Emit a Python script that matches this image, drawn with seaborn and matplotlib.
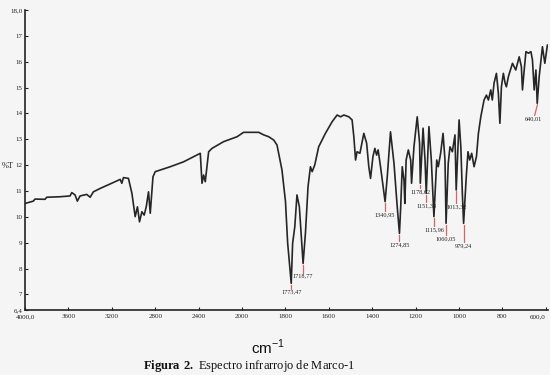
import numpy as np
import matplotlib
matplotlib.use("Agg")
import matplotlib.pyplot as plt
import seaborn as sns

# IR spectrum (wavenumber in cm-1, %T)
wavenumber = [4000, 3924, 3908, 3816, 3800, 3677, 3585, 3569, 3539, 3518, 3493, 3431,
              3400, 3370, 3308, 3123, 3108, 3093, 3047, 3015, 2985, 2964, 2945, 2923,
              2902, 2883, 2862, 2846, 2821, 2800, 2662, 2539, 2385, 2369, 2354, 2339,
              2308, 2277, 2170, 2046,
              1993, 1923, 1900, 1877, 1854, 1839, 1816, 1800, 1790, 1773.47, 1767, 1757,
              1747, 1736, 1718.77, 1708, 1696, 1685, 1677, 1665, 1647, 1616, 1585, 1562,
              1546, 1531, 1508, 1493, 1485, 1477, 1470, 1457, 1439, 1426, 1416, 1408,
              1397, 1388, 1380, 1373, 1362, 1340.95, 1331, 1316, 1300, 1285, 1274.85,
              1269, 1262, 1254, 1250, 1244, 1234, 1223, 1219, 1208, 1193, 1182,
              1178.62, 1166, 1157, 1151.33, 1139, 1128, 1115.96, 1103, 1096, 1085,
              1074, 1065, 1060.05, 1050, 1042, 1031, 1019, 1016, 1013.32, 1000, 992,
              985, 979.24, 967, 959, 951, 942, 931, 920, 911, 900, 885, 874, 865, 854,
              847, 839, 828, 819, 812, 805, 796, 788, 782, 773, 754, 739, 723, 713,
              708, 700, 692, 680, 669, 662, 654, 646, 640.01, 631, 616, 605, 593]
transmittance = [10.52, 10.61, 10.69, 10.68, 10.76, 10.78, 10.81, 10.94, 10.85, 10.61,
                 10.81, 10.87, 10.76, 10.97, 11.10, 11.45, 11.30, 11.52, 11.49, 10.91,
                 10.01, 10.39, 9.81, 10.20, 10.07, 10.39, 10.97, 10.14, 11.55, 11.75,
                 11.94, 12.13, 12.46, 11.30, 11.62, 11.36, 12.52, 12.65, 12.91, 13.10,
                 13.27, 13.27, 13.17, 13.10, 12.97, 12.78, 11.81, 10.60, 9.00, 7.43,
                 8.98, 9.62, 10.85, 10.39, 8.20, 9.37, 11.17, 11.94, 11.75, 12.01,
                 12.71, 13.23, 13.68, 13.94, 13.87, 13.94, 13.87, 13.75, 13.10, 12.20,
                 12.52, 12.46, 13.23, 12.85, 11.94, 11.49, 12.33, 12.65, 12.39, 12.59,
                 11.94, 10.59, 11.55, 13.29, 12.07, 10.39, 9.36,
                 10.39, 11.94, 11.43, 10.52, 12.20, 12.59, 12.20, 11.30, 12.71, 13.87,
                 12.85, 11.30, 13.43, 12.20, 10.91, 13.49, 12.20, 10.01, 12.20, 11.94,
                 12.46, 13.23, 12.20, 9.75, 12.07, 12.71, 12.52, 13.17, 12.07, 11.04,
                 13.75, 12.71, 10.91, 9.75, 11.55, 12.52, 12.20, 12.46, 11.94, 12.33,
                 13.23, 13.87, 14.52, 14.71, 14.52, 14.91, 14.52, 15.17, 15.55, 14.78,
                 13.62, 15.03, 15.55, 15.17, 15.03, 15.42, 15.94, 15.68, 16.19, 15.81,
                 14.91, 15.68, 16.39, 16.33, 16.39, 16.07, 14.91, 15.68, 14.39, 15.42,
                 16.58, 15.94, 16.65]

# labelled bands
peak_wn = [1773.47, 1718.77, 1340.95, 1274.85, 1178.62, 1151.33, 1115.96,
           1060.05, 1013.32, 979.24, 640.01]
peak_t = [7.43, 8.20, 10.59, 9.36, 11.30, 10.91, 10.01, 9.75, 11.04, 9.75, 14.39]
peak_text = ["1773,47", "1718,77", "1340,95", "1274,85", "1178,62", "1151,33",
             "1115,96", "1060,05", "1013,32", "979,24", "640,01"]

xticks = [4000, 3600, 3200, 2800, 2400, 2000, 1800, 1600, 1400, 1200, 1000, 800, 600]
xtick_labels = ["4000,0", "3600", "3200", "2800", "2400", "2000", "1800", "1600",
                "1400", "1200", "1000", "800", "600,0"]
yticks = [6.4, 7, 8, 9, 10, 11, 12, 13, 14, 15, 16, 17, 18]
ytick_labels = ["6,4", "7", "8", "9", "10", "11", "12", "13", "14", "15", "16", "17", "18,0"]

# layout only: how far the red marker drops below each band
drops = [0.2, 0.35, 0.35, 0.3, 0.18, 0.35, 0.37, 0.45, 0.5, 0.72, 0.47]

sns.set_theme(style="ticks")
bg = "#f5f5f5"
plt.rcParams["font.family"] = ["Liberation Serif", "DejaVu Serif"]
plt.rcParams["mathtext.fontset"] = "custom"
plt.rcParams["mathtext.rm"] = "Liberation Serif"
plt.rcParams["mathtext.bf"] = "Liberation Serif:bold"


# wavenumber axis changes scale at 2000 cm-1
def fwd(x):
    x = np.asarray(x, dtype=float)
    return np.where(x <= 2000, (x - 600) / 200.0, 7 + (x - 2000) / 400.0)


def inv(u):
    u = np.asarray(u, dtype=float)
    return np.where(u <= 7, 600 + 200.0 * u, 2000 + 400.0 * (u - 7))


fig = plt.figure(figsize=(5.5, 3.75), dpi=100, facecolor=bg)
ax = fig.add_axes([0.0455, 0.1733, 0.951, 0.8])
ax.set_facecolor(bg)

sns.lineplot(x=wavenumber, y=transmittance, sort=False, estimator=None,
             color="#262626", lw=1.2, ax=ax)

ax.set_xscale("function", functions=(fwd, inv))
ax.set_xlim(4000, 590)
ax.set_ylim(6.4, 18.0)
ax.set_xticks(xticks)
ax.set_xticklabels(xtick_labels)
ax.set_yticks(yticks)
ax.set_yticklabels(ytick_labels)
ax.minorticks_off()
ax.tick_params(axis="both", direction="in", length=2, width=0.8,
               labelsize=5, pad=2, colors="#222222")
ax.tick_params(axis="x", pad=3)
# keep the end labels inside the figure like the original
xl = ax.get_xticklabels()
xl[-1].set_horizontalalignment("right")
xl[-1].set_x(0)

for s in ["top", "right"]:
    ax.spines[s].set_visible(False)
for s in ["left", "bottom"]:
    ax.spines[s].set_color("#222222")
    ax.spines[s].set_linewidth(1.2)

# band markers
for wn, t, lab, d in zip(peak_wn, peak_t, peak_text, drops):
    if wn < 700:
        ax.plot([wn - 1, wn + 12], [t - 0.05, t - d], color="#e06060", lw=0.9)
        ax.text(wn + 20, t - d - 0.05, lab, fontsize=4.5, ha="center", va="top",
                color="#222222")
    else:
        ax.plot([wn, wn], [t - 0.05, t - d], color="#e06060", lw=0.9)
        ax.text(wn, t - d - 0.05, lab, fontsize=4.5, ha="center", va="top",
                color="#222222")

fig.text(2 / 550, 1 - 166 / 375, "%T", fontsize=6, ha="left", va="center",
         color="#222222")
fig.text(268 / 550, 1 - 347 / 375, r"cm$^{\mathregular{-1}}$", fontsize=11,
         family=["Liberation Sans", "DejaVu Sans"], ha="center", va="center",
         color="#111111")
fig.text(143 / 550, 1 - 366 / 375,
         r"$\mathbf{Figura\ 2.}$ Espectro infrarrojo de Marco-1",
         fontsize=9, ha="left", va="center", color="#111111")

fig.savefig("out.png", dpi=100, facecolor=bg)
